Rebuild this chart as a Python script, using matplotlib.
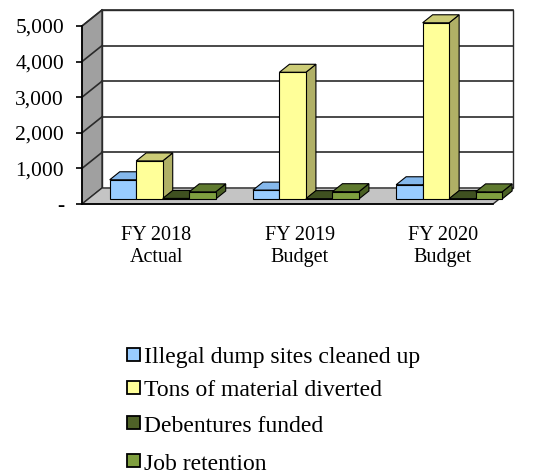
import matplotlib
matplotlib.use("Agg")
import matplotlib.pyplot as plt
from matplotlib.patches import Polygon, Rectangle
from matplotlib.ticker import FuncFormatter

# ---- data ----
categories = ["FY 2018\nActual", "FY 2019\nBudget", "FY 2020\nBudget"]
series_names = ["Illegal dump sites cleaned up", "Tons of material diverted",
                "Debentures funded", "Job retention"]
illegal_dump = [540, 250, 400]
tons_diverted = [1070, 3560, 4950]
debentures = [15, 10, 10]
job_retention = [200, 205, 200]
series_values = [illegal_dump, tons_diverted, debentures, job_retention]
y_ticks = [0, 1000, 2000, 3000, 4000, 5000]

front_cols = ["#99ccff", "#ffff99", "#4f6228", "#7f9f3f"]
top_cols = ["#85b8ec", "#cccc77", "#3f5020", "#5f7a2f"]
side_cols = ["#6b99cc", "#b0b066", "#2e3a17", "#4a6024"]

plt.rcParams['font.family'] = ['Liberation Serif', 'DejaVu Serif']

W, H = 545, 474
fig = plt.figure(figsize=(W / 100, H / 100), dpi=100)
ax_l, ax_r, ax_b, ax_t = 82, 493, 204, 26
ax = fig.add_axes([ax_l / W, (H - ax_b) / H, (ax_r - ax_l) / W, (ax_b - ax_t) / H])
x0, x1 = -0.52, 2.35
ax.set_xlim(x0, x1)
ax.set_ylim(0, 5000)
ax.patch.set_visible(False)

# depth offsets (pixels -> data units)
DX_PX, DY_PX = 20, 16
dx = DX_PX * (x1 - x0) / (ax_r - ax_l)
dy = DY_PX * 5000 / (ax_b - ax_t)

grid_c = "#2a2a2a"
# walls
ax.add_patch(Polygon([(x0 + dx, dy), (x1 + dx, dy), (x1 + dx, 5000 + dy), (x0 + dx, 5000 + dy)],
                     closed=True, fc="white", ec=grid_c, lw=1.0, zorder=0.5, clip_on=False))
ax.add_patch(Polygon([(x0, 0), (x0 + dx, dy), (x0 + dx, 5000 + dy), (x0, 5000)],
                     closed=True, fc="#a0a0a0", ec=grid_c, lw=1.0, zorder=0.6, clip_on=False))
ax.add_patch(Polygon([(x0, 0), (x1, 0), (x1 + dx, dy), (x0 + dx, dy)],
                     closed=True, fc="#c4c4c4", ec=grid_c, lw=1.0, zorder=0.7, clip_on=False))
for v in y_ticks[1:]:
    ax.plot([x0 + dx, x1 + dx], [v + dy, v + dy], color=grid_c, lw=1.2, zorder=1, clip_on=False)
    ax.plot([x0, x0 + dx], [v, v + dy], color=grid_c, lw=1.2, zorder=1, clip_on=False)

# bars
bw = 0.185
f0 = 5 / 16
bd = 8 / 16
n = len(series_values)
for ci in range(len(categories)):
    for si in range(n):
        v = series_values[si][ci]
        xl = ci - n * bw / 2 + si * bw + f0 * dx
        xr = xl + bw
        base = f0 * dy
        top = base + v
        z = 3 + ci * 10 + si
        ax.bar(xl, v, width=bw, bottom=base, align='edge', color=front_cols[si],
               edgecolor="black", lw=0.8, zorder=z + 0.3, clip_on=False)
        ax.add_patch(Polygon([(xr, base), (xr + bd * dx, base + bd * dy),
                              (xr + bd * dx, top + bd * dy), (xr, top)],
                             closed=True, fc=side_cols[si], ec="black", lw=0.8,
                             zorder=z + 0.1, clip_on=False))
        ax.add_patch(Polygon([(xl, top), (xr, top), (xr + bd * dx, top + bd * dy),
                              (xl + bd * dx, top + bd * dy)],
                             closed=True, fc=top_cols[si], ec="black", lw=0.8,
                             zorder=z + 0.2, clip_on=False))

# axes styling
for s in ["top", "right"]:
    ax.spines[s].set_visible(False)
ax.spines["left"].set_color("black")
ax.spines["bottom"].set_color("black")
ax.spines["left"].set_linewidth(1.2)
ax.spines["bottom"].set_linewidth(1.2)
ax.spines["left"].set_zorder(2)
ax.spines["bottom"].set_zorder(2)
ax.set_yticks(y_ticks)
ax.yaxis.set_major_formatter(FuncFormatter(lambda v, p: "-" if v == 0 else f"{int(v):,}"))
ax.tick_params(axis='y', direction='out', length=4, width=1.2, pad=9, labelsize=15.5)
ax.set_xticks(range(len(categories)))
ax.set_xticklabels(categories, fontsize=14.5, linespacing=1.2)
ax.tick_params(axis='x', length=0, pad=16)

# legend (manual, rows clipped at bottom like the reference)
leg_y = [354, 387, 422, 460]
for si, name in enumerate(series_names):
    yc = leg_y[si]
    fig.patches.append(Rectangle(((127) / W, (H - yc - 6.5) / H), 13 / W, 13 / H,
                                 transform=fig.transFigure, fc=front_cols[si],
                                 ec="black", lw=1.3, figure=fig))
    fig.text(144 / W, (H - yc - 9.5) / H, name, fontsize=17, va='baseline', ha='left')

fig.savefig("out.png", dpi=100)
